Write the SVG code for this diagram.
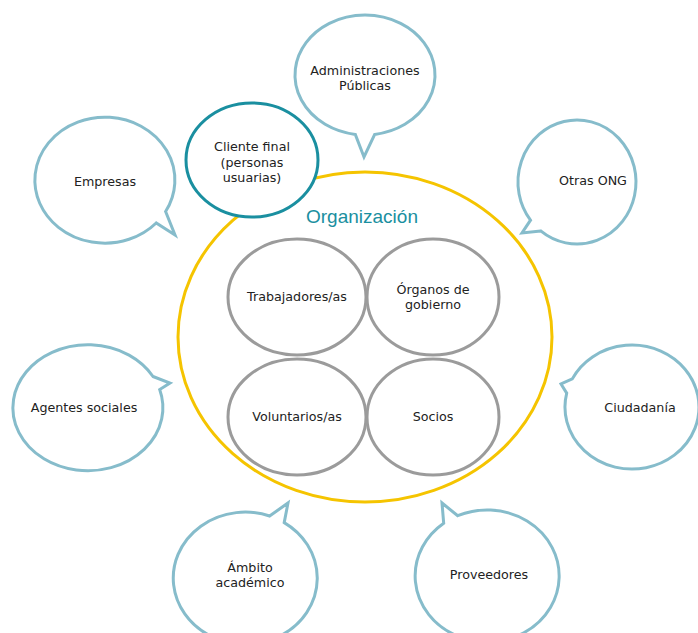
<svg xmlns="http://www.w3.org/2000/svg" width="698" height="633" viewBox="0 0 698 633">
<style>
.bub{fill:#fff;stroke:#86bccb;stroke-width:3;stroke-linejoin:miter}
.inner{fill:#fff;stroke:#9b9b9b;stroke-width:3}
.t{font-family:"DejaVu Sans","Liberation Sans",Arial,sans-serif;font-size:12.7px;fill:#222;text-anchor:middle}
</style>
<rect width="698" height="633" fill="#fff"/>
<g id="connectors"></g>
<g id="organizacion">
<ellipse cx="365" cy="337" rx="187" ry="165" fill="#fff" stroke="#f5c400" stroke-width="3"/>
<text x="362" y="223" font-family="Liberation Sans,Arial,sans-serif" font-size="19" fill="#1a8fa0" text-anchor="middle">Organización</text>
</g>
<g id="admin">
<path class="bub" d="M374.7,134.4 L364,157 L355.3,134.4 A70 60 0 1 1 374.7,134.4 Z"/>
<text class="t" x="365" y="75">Administraciones</text>
<text class="t" x="365" y="90">Públicas</text>
</g>
<g id="cliente">
<ellipse cx="252" cy="160" rx="66" ry="57" fill="#fff" stroke="#1a8fa0" stroke-width="3"/>
<text class="t" x="252" y="151">Cliente final</text>
<text class="t" x="252" y="167">(personas</text>
<text class="t" x="252" y="182">usuarias)</text>
</g>
<g id="empresas">
<path class="bub" d="M165.6,211.5 L175,235 L156.2,223 A70 63 0 1 1 165.6,211.5 Z"/>
<text class="t" x="105" y="186">Empresas</text>
</g>
<g id="otras">
<path class="bub" d="M540.7,230.9 L522,233 L530.5,220.2 A59 62 0 1 1 540.7,230.9 Z"/>
<text class="t" x="593" y="185">Otras ONG</text>
</g>
<g id="agentes">
<path class="bub" d="M153,376.5 L170,383 L159.7,389.6 A75 63 0 1 1 153,376.5 Z"/>
<text class="t" x="84" y="412">Agentes sociales</text>
</g>
<g id="ciudadania">
<path class="bub" d="M566.7,393.1 L561,384 L572.3,378.9 A67 62 0 1 1 566.7,393.1 Z"/>
<text class="t" x="640" y="412">Ciudadanía</text>
</g>
<g id="ambito">
<path class="bub" d="M269.6,516 L288,503 L284.2,522.6 A72 66 0 1 1 269.6,516 Z"/>
<text class="t" x="250" y="572">Ámbito</text>
<text class="t" x="250" y="587">académico</text>
</g>
<g id="proveedores">
<path class="bub" d="M443.7,523.3 L442,503 L457.7,515.7 A72 66 0 1 1 443.7,523.3 Z"/>
<text class="t" x="489" y="579">Proveedores</text>
</g>
<g id="trabajadores">
<ellipse class="inner" cx="297" cy="297" rx="69" ry="58"/>
<text class="t" x="297" y="301">Trabajadores/as</text>
</g>
<g id="organos">
<ellipse class="inner" cx="433" cy="297" rx="66" ry="58"/>
<text class="t" x="433" y="294">Órganos de</text>
<text class="t" x="433" y="309">gobierno</text>
</g>
<g id="voluntarios">
<ellipse class="inner" cx="297" cy="417" rx="69" ry="58"/>
<text class="t" x="297" y="421">Voluntarios/as</text>
</g>
<g id="socios">
<ellipse class="inner" cx="433" cy="417" rx="66" ry="58"/>
<text class="t" x="433" y="421">Socios</text>
</g>
</svg>
